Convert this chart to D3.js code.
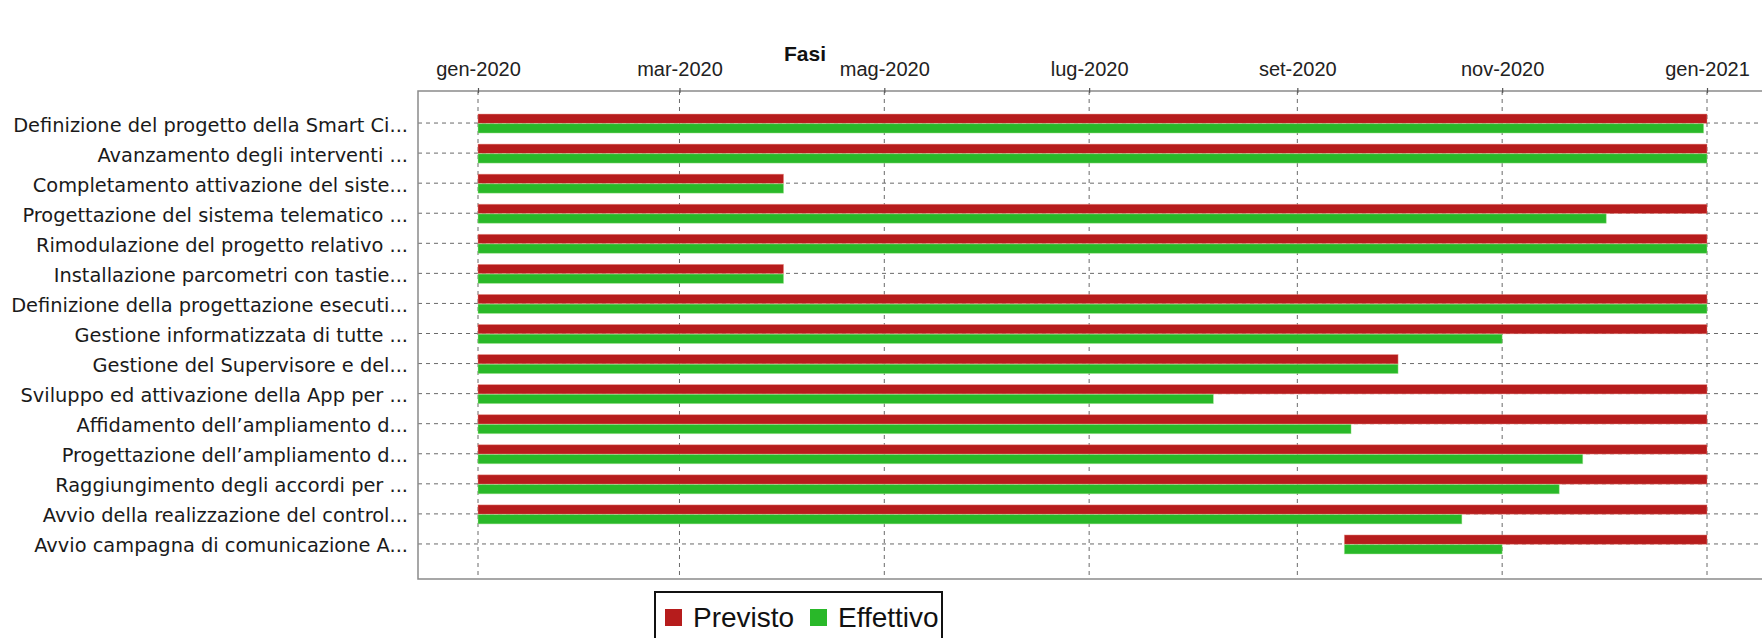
<!DOCTYPE html>
<html>
<head>
<meta charset="utf-8">
<script src="https://cdn.jsdelivr.net/npm/d3@7"></script>
<style>
  html, body { margin: 0; padding: 0; background: #ffffff; }
  svg { display: block; }
</style>
</head>
<body>
<div id="chart"></div>
<script>
const title = "Fasi";
const categories = [
  "Definizione del progetto della Smart Ci...",
  "Avanzamento degli interventi ...",
  "Completamento attivazione del siste...",
  "Progettazione del sistema telematico ...",
  "Rimodulazione del progetto relativo ...",
  "Installazione parcometri con tastie...",
  "Definizione della progettazione esecuti...",
  "Gestione informatizzata di tutte ...",
  "Gestione del Supervisore e del...",
  "Sviluppo ed attivazione della App per ...",
  "Affidamento dell’ampliamento d...",
  "Progettazione dell’ampliamento d...",
  "Raggiungimento degli accordi per ...",
  "Avvio della realizzazione del control...",
  "Avvio campagna di comunicazione A..."
];
const seriesNames = ["Previsto", "Effettivo"];
const seriesColors = ["#b61c1c", "#29b829"];

const previstoStart = ["2020-01-01","2020-01-01","2020-01-01","2020-01-01","2020-01-01","2020-01-01","2020-01-01","2020-01-01","2020-01-01","2020-01-01","2020-01-01","2020-01-01","2020-01-01","2020-01-01","2020-09-15"];
const previstoEnd   = ["2021-01-01","2021-01-01","2020-04-01","2021-01-01","2021-01-01","2020-04-01","2021-01-01","2021-01-01","2020-10-01","2021-01-01","2021-01-01","2021-01-01","2021-01-01","2021-01-01","2021-01-01"];
const effettivoStart = ["2020-01-01","2020-01-01","2020-01-01","2020-01-01","2020-01-01","2020-01-01","2020-01-01","2020-01-01","2020-01-01","2020-01-01","2020-01-01","2020-01-01","2020-01-01","2020-01-01","2020-09-15"];
const effettivoEnd   = ["2020-12-31","2021-01-01","2020-04-01","2020-12-02","2021-01-01","2020-04-01","2021-01-01","2020-11-01","2020-10-01","2020-08-07","2020-09-17","2020-11-25","2020-11-18","2020-10-20","2020-11-01"];

const tickDates  = ["2020-01-01","2020-03-01","2020-05-01","2020-07-01","2020-09-01","2020-11-01","2021-01-01"];
const tickLabels = ["gen-2020","mar-2020","mag-2020","lug-2020","set-2020","nov-2020","gen-2021"];

const W = 1762, H = 638;
const parse = d3.timeParse("%Y-%m-%d");
const plot = { left: 418, top: 91, right: 1767, bottom: 579 };

const svg = d3.select("#chart").append("svg").attr("width", W).attr("height", H);
svg.append("rect").attr("width", W).attr("height", H).attr("fill", "#ffffff");

const x = d3.scaleTime()
  .domain([parse(tickDates[0]), parse(tickDates[tickDates.length - 1])])
  .range([478, 1707]);
const y = d3.scaleBand().domain(categories).range([plot.top + 17, plot.bottom - 20]);
const ys = d3.scaleBand().domain(seriesNames).range([-9, 10]).paddingInner(0.04);
const color = d3.scaleOrdinal().domain(seriesNames).range(seriesColors);

svg.append("defs").append("clipPath").attr("id", "plotclip")
  .append("rect").attr("x", plot.left).attr("y", plot.top)
  .attr("width", plot.right - plot.left).attr("height", plot.bottom - plot.top);

// title
svg.append("text").attr("x", 805).attr("y", 61).attr("text-anchor", "middle")
  .attr("font-family", "'Liberation Sans', Arial, sans-serif").attr("font-size", 21)
  .attr("font-weight", "bold").attr("fill", "#111").text(title);

const gPlot = svg.append("g").attr("clip-path", "url(#plotclip)");

// vertical grid lines
gPlot.selectAll("line.vg").data(tickDates).enter().append("line")
  .attr("x1", d => x(parse(d))).attr("x2", d => x(parse(d)))
  .attr("y1", plot.top).attr("y2", plot.bottom)
  .attr("stroke", "#6a6a6a").attr("stroke-width", 1).attr("stroke-dasharray", "4,4");

// horizontal category grid lines
gPlot.selectAll("line.hg").data(categories).enter().append("line")
  .attr("x1", plot.left).attr("x2", plot.right)
  .attr("y1", d => y(d) + y.bandwidth() / 2).attr("y2", d => y(d) + y.bandwidth() / 2)
  .attr("stroke", "#6a6a6a").attr("stroke-width", 1).attr("stroke-dasharray", "4,4");

// bars
const rows = [];
categories.forEach((c, i) => {
  rows.push({ cat: c, s: "Previsto", a: previstoStart[i], b: previstoEnd[i] });
  rows.push({ cat: c, s: "Effettivo", a: effettivoStart[i], b: effettivoEnd[i] });
});
gPlot.selectAll("rect.bar").data(rows).enter().append("rect")
  .attr("x", d => x(parse(d.a)))
  .attr("width", d => x(parse(d.b)) - x(parse(d.a)))
  .attr("y", d => y(d.cat) + y.bandwidth() / 2 + ys(d.s))
  .attr("height", ys.bandwidth())
  .attr("fill", d => color(d.s))
  .attr("stroke", d => d.s === "Previsto" ? "rgba(240,150,140,0.55)" : "rgba(170,230,150,0.55)")
  .attr("stroke-width", 0.8);

// frame
svg.append("rect").attr("x", plot.left).attr("y", plot.top)
  .attr("width", plot.right - plot.left).attr("height", plot.bottom - plot.top)
  .attr("fill", "none").attr("stroke", "#8a8a8a").attr("stroke-width", 1.5);

// top axis
const axis = d3.axisTop(x)
  .tickValues(tickDates.map(parse))
  .tickFormat((d, i) => tickLabels[i])
  .tickSize(5).tickSizeOuter(0).tickPadding(12);
const gAx = svg.append("g").attr("transform", `translate(0,${plot.top + 2})`).call(axis);
gAx.select(".domain").remove();
gAx.selectAll(".tick line").attr("stroke", "#555").attr("stroke-width", 1.2);
gAx.selectAll(".tick text").attr("font-family", "'Liberation Sans', Arial, sans-serif")
  .attr("font-size", 20).attr("fill", "#222");

// category labels
const gCat = svg.append("g");
gCat.selectAll("text").data(categories).enter().append("text")
  .attr("x", 408).attr("y", d => y(d) + y.bandwidth() / 2 + 8.5)
  .attr("text-anchor", "end")
  .attr("font-family", "'DejaVu Sans', Verdana, sans-serif").attr("font-size", 19.4)
  .attr("fill", "#1a1a1a").style("white-space", "pre")
  .text(d => d);

// legend
const lg = svg.append("g");
lg.append("rect").attr("x", 655).attr("y", 592).attr("width", 287).attr("height", 80)
  .attr("fill", "#fff").attr("stroke", "#111").attr("stroke-width", 2);
const legX = [665, 810];
seriesNames.forEach((s, i) => {
  lg.append("rect").attr("x", legX[i]).attr("y", 609).attr("width", 17).attr("height", 17)
    .attr("fill", color(s));
  lg.append("text").attr("x", legX[i] + 28).attr("y", 627)
    .attr("font-family", "'Liberation Sans', Arial, sans-serif").attr("font-size", 28)
    .attr("fill", "#111").text(s);
});
</script>
</body>
</html>
